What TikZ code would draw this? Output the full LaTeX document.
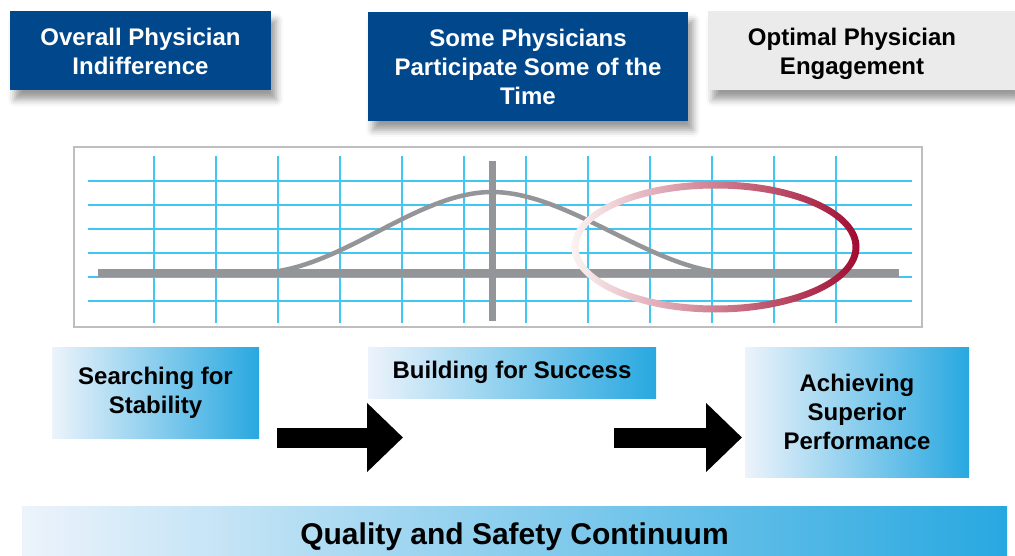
\documentclass[tikz,border=0pt]{standalone}
\usepackage{fontspec}
\setmainfont{Liberation Sans}
\usetikzlibrary{positioning,shadows.blur,arrows.meta}

\definecolor{physblue}{HTML}{00478B}
\definecolor{palegray}{HTML}{EBEBEB}
\definecolor{gridblue}{HTML}{42C6F2}
\definecolor{axisgray}{HTML}{939598}
\definecolor{framegray}{HTML}{BCBEC0}
\definecolor{ringpale}{HTML}{FCF4F3}
\definecolor{ringmid}{HTML}{BE5C5E}
\definecolor{ringred}{HTML}{A00A30}
\definecolor{stageleft}{HTML}{ECF3FB}
\definecolor{stageright}{HTML}{28A8E0}

\tikzset{
  topbox/.style={fill=physblue, text=white, align=center, inner sep=0pt,
    font=\fontsize{24}{29}\selectfont\bfseries,
    blur shadow={shadow xshift=5pt, shadow yshift=-9pt, shadow blur radius=7pt, shadow opacity=40}},
  stagebox/.style={left color=stageleft, right color=stageright, align=center, inner sep=0pt,
    font=\fontsize{24}{29}\selectfont\bfseries},
  gridline/.style={gridblue, line width=1.6pt},
  bigarrow/.style={line width=20pt, -{Triangle[length=36pt, width=67pt]}}
}

\begin{document}
\begin{tikzpicture}[x=1pt, y=-1pt]
    \useasboundingbox (0,0) rectangle (1015,556);
    \clip (0,0) rectangle (1015,556);

    \node [topbox, minimum width=261, minimum height=79] (indiff) at (140.5,51) {Overall Physician\\Indifference};
    \node [topbox, minimum width=320, minimum height=109] (some) at (528,66.5) {Some Physicians\\Participate Some of the\\Time};
    \node [topbox, fill=palegray, minimum width=307, minimum height=79,
      label={[align=center, xshift=-9.5pt, yshift=-3pt, text=black, font=\fontsize{24}{29}\selectfont\bfseries]center:Optimal Physician\\Engagement}] (optimal) at (861.5,51) {};

    \node [draw=framegray, line width=2.5pt, fill=white, minimum width=848, minimum height=180, inner sep=0pt] (chart) at (498,237) {};
    \foreach \x in {154,216,...,836}
        \draw [gridline] (\x,156) -- (\x,323);
    \foreach \y in {181,205,...,301}
        \draw [gridline] (88,\y) -- (912,\y);
    \draw [axisgray, line width=7.5pt] (98,273) -- (899,273);
    \draw [axisgray, line width=7pt] (492,161) -- (492,321);
    \draw [axisgray, line width=4.5pt] (256,273) .. controls (338,273) and (415,192) .. (492,192)
        .. controls (570,192) and (655,273) .. (734,273);

    \begin{scope}[even odd rule]
        \clip (715.5,247) ellipse [x radius=144, y radius=65.5]
            (715.5,247) ellipse [x radius=137, y radius=58.5];
        \shade [left color=ringpale, middle color=ringmid, right color=ringred] (570,180) rectangle (861,314);
    \end{scope}

    \node [stagebox, minimum width=207, minimum height=91] (search) at (155.5,392.5) {Searching for\\Stability};
    \node [stagebox, minimum width=288, minimum height=51] (build) at (512,372.5) {Building for Success};
    \node [stagebox, minimum width=224, minimum height=130] (achieve) at (857,412) {Achieving\\Superior\\Performance};
    \node [stagebox, minimum width=985, minimum height=62, font=\fontsize{30}{34}\selectfont\bfseries] (continuum) at (514.5,537) {Quality and Safety Continuum};

    \coordinate (from1) at (277,437.5);
    \coordinate (to1) at (403,437.5);
    \coordinate (from2) at (614,437.5);
    \coordinate (to2) at (742,437.5);
    \draw [bigarrow] (from1) -- (to1);
    \draw [bigarrow] (from2) -- (to2);
\end{tikzpicture}
\end{document}
